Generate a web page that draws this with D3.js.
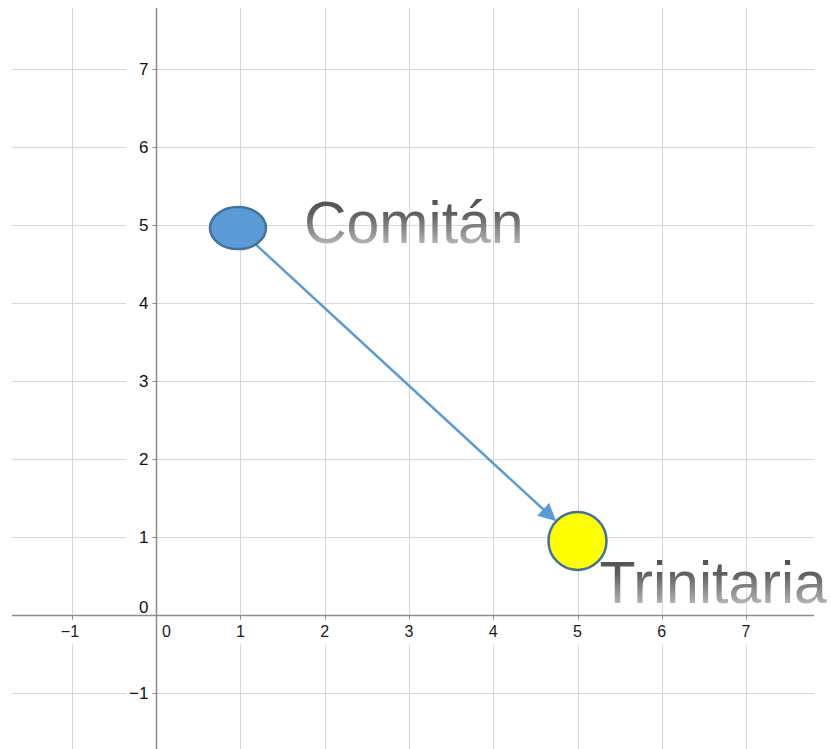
<!DOCTYPE html>
<html>
<head>
<meta charset="utf-8">
<script src="https://cdn.jsdelivr.net/npm/d3@7"></script>
<style>
  html, body { margin: 0; padding: 0; background: #fff; }
  svg { display: block; }
</style>
</head>
<body>
<div id="plot"></div>
<script>
const xTicks = [-1, 0, 1, 2, 3, 4, 5, 6, 7];
const yTicks = [-1, 0, 1, 2, 3, 4, 5, 6, 7];
const cities = ["Comitán", "Trinitaria"];
const cityX = [0.97, 5.0];
const cityY = [4.96, 0.95];

const width = 831, height = 749;

const svg = d3.select("#plot")
  .append("svg")
  .attr("width", width)
  .attr("height", height);

const x = d3.scaleLinear().domain([-1.712, 7.807]).range([12, 814]);
const y = d3.scaleLinear().domain([-1.718, 7.782]).range([749, 8]);

const defs = svg.append("defs");
const grad = defs.append("linearGradient")
  .attr("id", "txtgrad")
  .attr("x1", 0).attr("y1", 0).attr("x2", 0).attr("y2", 1);
grad.append("stop").attr("offset", "0%").attr("stop-color", "#4a4a4a");
grad.append("stop").attr("offset", "35%").attr("stop-color", "#5e5e5e");
grad.append("stop").attr("offset", "75%").attr("stop-color", "#a6a6a6");
grad.append("stop").attr("offset", "100%").attr("stop-color", "#e6e6e6");

defs.append("marker")
  .attr("id", "arrow")
  .attr("viewBox", "0 0 10 10")
  .attr("refX", 9).attr("refY", 5)
  .attr("markerWidth", 7).attr("markerHeight", 7)
  .attr("markerUnits", "strokeWidth")
  .attr("orient", "auto")
  .append("path")
  .attr("d", "M0,0 L10,5 L0,10 z")
  .attr("fill", "#5b9bd5");

// grid
const grid = svg.append("g").attr("stroke", "#d6d6d6").attr("stroke-width", 1);
grid.selectAll("line.v")
  .data(xTicks.filter(d => d !== 0))
  .join("line")
  .attr("x1", d => Math.round(x(d)) + 0.5).attr("x2", d => Math.round(x(d)) + 0.5)
  .attr("y1", y.range()[1]).attr("y2", y.range()[0]);
grid.selectAll("line.h")
  .data(yTicks.filter(d => d !== 0))
  .join("line")
  .attr("y1", d => Math.round(y(d)) + 0.5).attr("y2", d => Math.round(y(d)) + 0.5)
  .attr("x1", x.range()[0]).attr("x2", x.range()[1]);

// axes
const x0 = Math.round(x(0)) + 0.5, y0 = Math.round(y(0)) + 0.5;

// label backgrounds (knock out grid behind tick labels)
svg.append("g").selectAll("rect")
  .data(xTicks.filter(d => d !== 0))
  .join("rect")
  .attr("x", d => x(d) - 16).attr("y", y0 + 4)
  .attr("width", 32).attr("height", 25)
  .attr("fill", "#fff");
svg.append("g").selectAll("rect")
  .data(yTicks.filter(d => d !== 0))
  .join("rect")
  .attr("x", 126).attr("y", d => y(d) - 10)
  .attr("width", x0 - 4 - 126).attr("height", 20)
  .attr("fill", "#fff");

const axis = svg.append("g").attr("stroke", "#8c8c8c").attr("stroke-width", 1.5);
axis.append("line").attr("x1", x.range()[0]).attr("x2", x.range()[1]).attr("y1", y0).attr("y2", y0);
axis.append("line").attr("x1", x0).attr("x2", x0).attr("y1", y.range()[1]).attr("y2", y.range()[0]);
axis.selectAll("line.tx")
  .data(xTicks.filter(d => d !== 0))
  .join("line")
  .attr("x1", d => Math.round(x(d)) + 0.5).attr("x2", d => Math.round(x(d)) + 0.5)
  .attr("y1", y0).attr("y2", y0 + 4)
  .attr("stroke-width", 1);
axis.selectAll("line.ty")
  .data(yTicks.filter(d => d !== 0))
  .join("line")
  .attr("y1", d => Math.round(y(d)) + 0.5).attr("y2", d => Math.round(y(d)) + 0.5)
  .attr("x1", x0 - 4).attr("x2", x0)
  .attr("stroke-width", 1);

const fmt = d => d < 0 ? "\u2212" + Math.abs(d) : String(d);

svg.append("g")
  .attr("font-family", "Liberation Sans, Arial, sans-serif")
  .attr("font-size", 16)
  .attr("fill", "#1a1a1a")
  .selectAll("text")
  .data(xTicks)
  .join("text")
  .attr("x", d => d === 0 ? x0 + 10 : x(d) + (d < 0 ? -2 : 0))
  .attr("y", y0 + 21)
  .attr("text-anchor", "middle")
  .text(fmt);

svg.append("g")
  .attr("font-family", "Liberation Sans, Arial, sans-serif")
  .attr("font-size", 17)
  .attr("fill", "#111")
  .selectAll("text")
  .data(yTicks)
  .join("text")
  .attr("x", x0 - 8)
  .attr("y", d => d === 0 ? y0 - 3 : y(d) + 6)
  .attr("text-anchor", "end")
  .text(fmt);

// arrow between the two cities
const ax = x(cityX[0]), ay = y(cityY[0]), bx = x(cityX[1]), by = y(cityY[1]);
const rx = 28, ry = 21, rc = 29;
const dx = bx - ax, dy = by - ay, len = Math.hypot(dx, dy);
const ux = dx / len, uy = dy / len;
const te = 1 / Math.sqrt((ux / rx) ** 2 + (uy / ry) ** 2);
svg.append("line")
  .attr("x1", ax + ux * te).attr("y1", ay + uy * te)
  .attr("x2", bx - ux * (rc + 2)).attr("y2", by - uy * (rc + 2))
  .attr("stroke", "#5b9bd5")
  .attr("stroke-width", 2.5)
  .attr("marker-end", "url(#arrow)");

svg.append("ellipse")
  .attr("cx", ax).attr("cy", ay)
  .attr("rx", rx).attr("ry", ry)
  .attr("fill", "#5b9bd5")
  .attr("stroke", "#41719c")
  .attr("stroke-width", 2.5);

svg.append("circle")
  .attr("cx", bx).attr("cy", by)
  .attr("r", rc)
  .attr("fill", "#ffff00")
  .attr("stroke", "#41719c")
  .attr("stroke-width", 2.5);

// city labels
svg.append("g")
  .attr("font-family", "Liberation Sans, Arial, sans-serif")
  .attr("font-size", 59)
  .attr("fill", "url(#txtgrad)")
  .selectAll("text")
  .data(cities)
  .join("text")
  .attr("x", (d, i) => i === 0 ? ax + 66 : bx + 22)
  .attr("y", (d, i) => i === 0 ? ay + 15 : by + 62)
  .text(d => d);
</script>
</body>
</html>
